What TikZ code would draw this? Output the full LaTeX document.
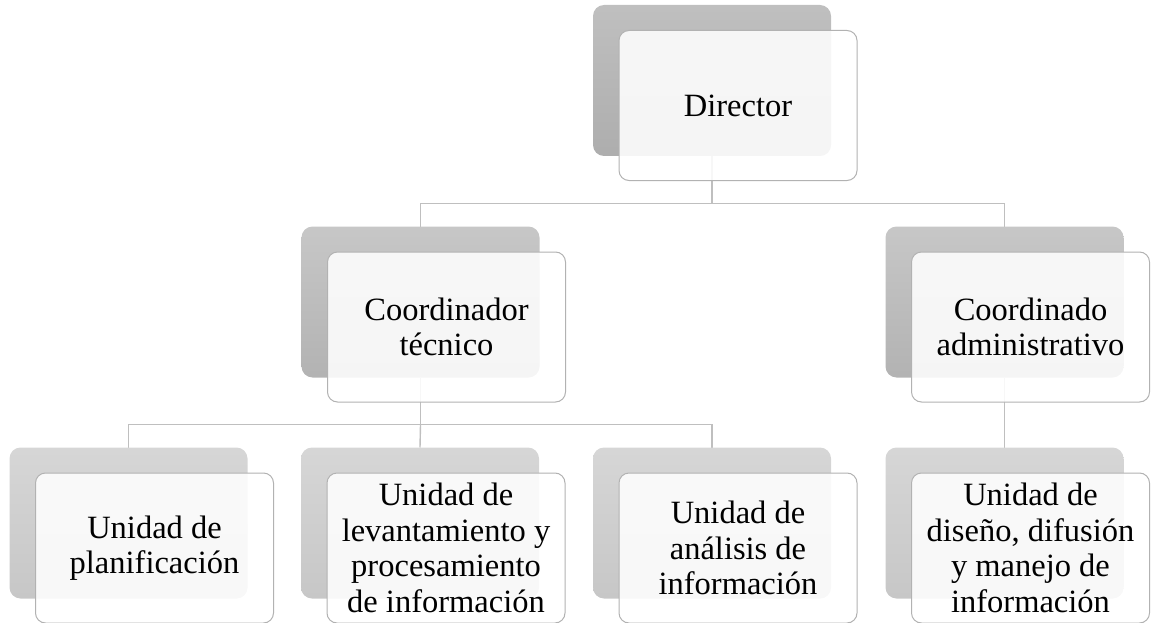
\documentclass[tikz,border=0pt]{standalone}
\usepackage{fontspec}
\setmainfont{Liberation Serif}
\usetikzlibrary{positioning, calc, backgrounds}
\tikzset{
    % Back (shadow) boxes, one shade per level
    backbox/.style={
        rectangle,
        rounded corners=11pt,
        minimum width=238pt,
        minimum height=151pt,
        inner sep=0pt, outer sep=0pt
    },
    backTop/.style={backbox, top color=black!25, bottom color=black!32},
    backMid/.style={backbox, top color=black!22, bottom color=black!30},
    backLow/.style={backbox, top color=black!16, bottom color=black!22},
    % Front boxes with the text
    frontbox/.style={
        rectangle,
        rounded corners=10pt,
        minimum width=238pt,
        minimum height=150pt,
        inner sep=0pt, outer sep=0pt,
        draw=black!30,
        line width=1pt,
        fill=white, fill opacity=0.88, text opacity=1,
        align=center,
        font=\fontsize{32.5}{35.5}\selectfont
    },
    % Connector lines
    link/.style={draw=black!25, line width=1.4pt}
}

\begin{document}
\begin{tikzpicture}[x=1pt, y=-1pt]

    \useasboundingbox (0,0) rectangle (1151,623);

    % --- LEVEL 0 ---
    \node (dirB) [backTop] at (712,80.5) {};
    \node (dir) [frontbox] at ($(dirB)+(26,25)$) {Director};

    % --- LEVEL 1 ---
    \node (tecB) [backMid] at (420.5,302) {};
    \node (tec) [frontbox] at ($(tecB)+(26,25)$) {Coordinador\\ técnico};

    \node (admB) [backMid] at (1004.5,302) {};
    \node (adm) [frontbox] at ($(admB)+(26,25)$) {Coordinado\\ administrativo};

    % --- LEVEL 2 ---
    \node (plaB) [backLow] at (128.5,523) {};
    \node (pla) [frontbox] at ($(plaB)+(26,25)$) {Unidad de\\ planificación};

    \node (levB) [backLow] at (420,523) {};
    \node (lev) [frontbox] at ($(levB)+(26,25)$) {Unidad de\\ levantamiento y\\ procesamiento\\ de información};

    \node (anaB) [backLow] at (712,523) {};
    \node (ana) [frontbox] at ($(anaB)+(26,25)$) {Unidad de\\ análisis de\\ información};

    \node (disB) [backLow] at (1004.5,523) {};
    \node (dis) [frontbox] at ($(disB)+(26,25)$) {Unidad de\\ diseño, difusión\\ y manejo de\\ información};

    % --- Connectors ---
    \begin{scope}[on background layer]
        \coordinate (bus1) at ($(dir.south)!.5!(tecB.north)$);
        \coordinate (bus2) at ($(tec.south)!.5!(plaB.north)$);

        \draw [link] (dirB.south) -- (dirB.south |- bus1) -| (tecB.north);
        \draw [link] (dirB.south |- bus1) -| (admB.north);

        \draw [link] (tecB.south) -- (tecB.south |- bus2) -| (plaB.north);
        \draw [link] (tecB.south |- bus2) -- (levB.north);
        \draw [link] (tecB.south |- bus2) -| (anaB.north);

        \draw [link] (admB.south) -- (disB.north);
    \end{scope}

\end{tikzpicture}
\end{document}
